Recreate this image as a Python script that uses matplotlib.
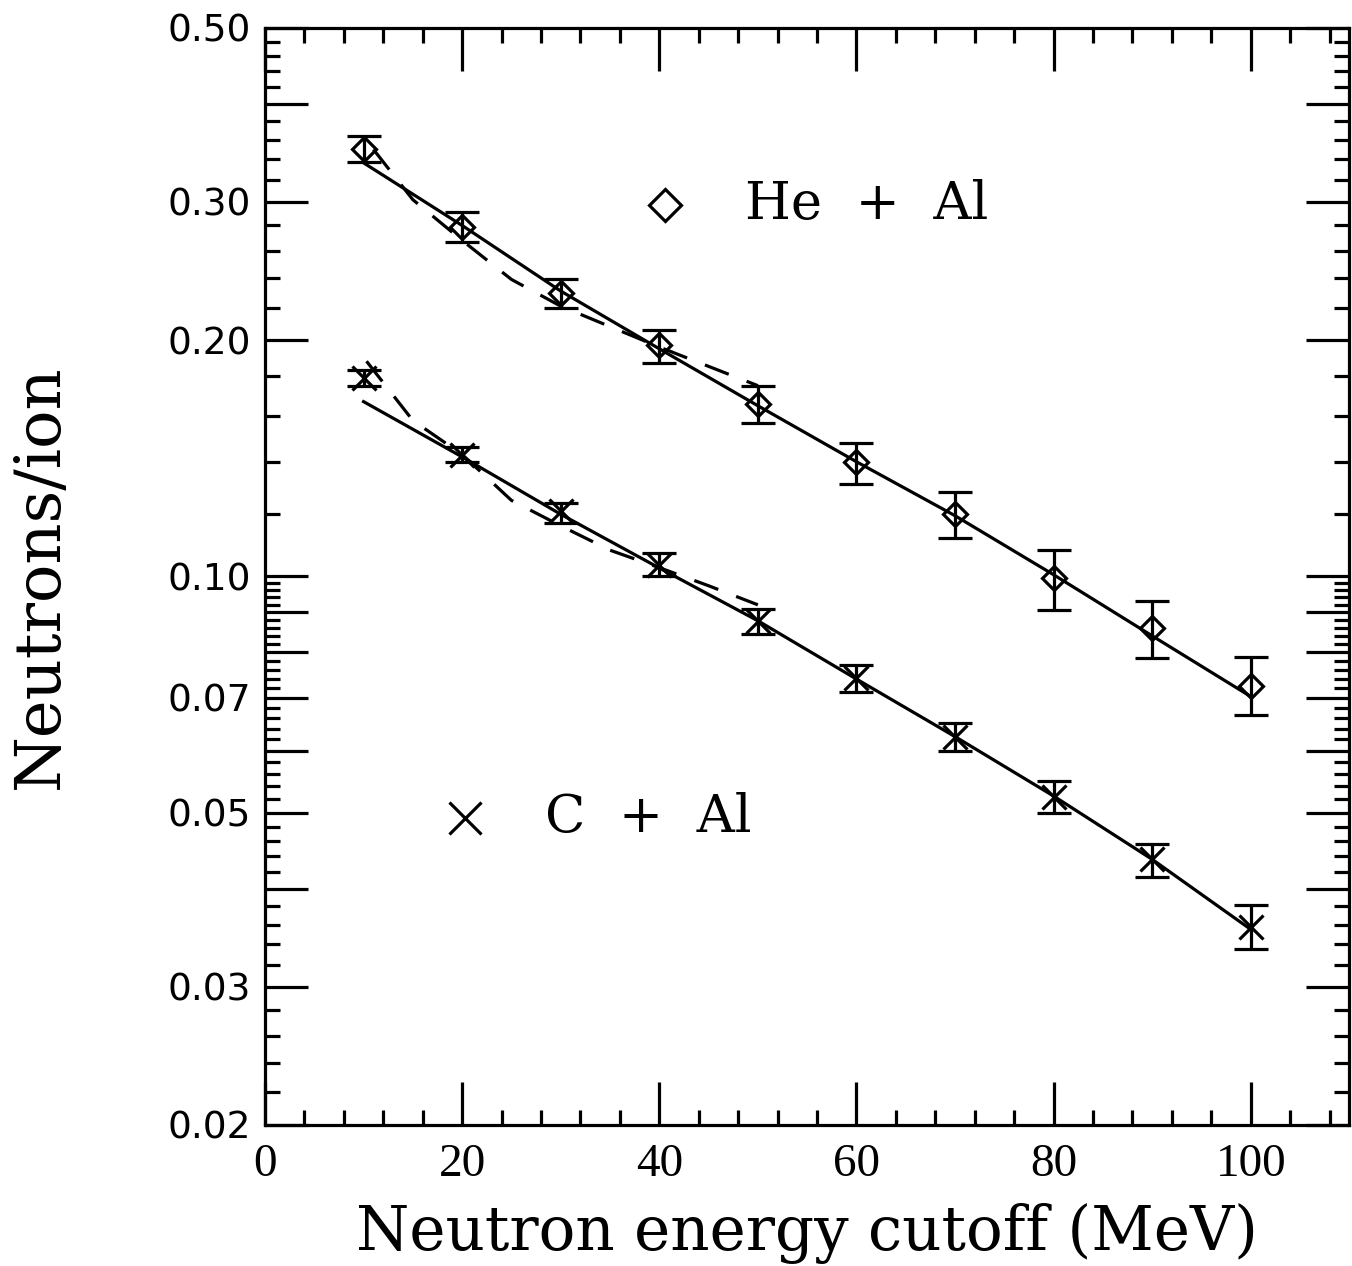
import numpy as np
import matplotlib
matplotlib.use("Agg")
import matplotlib.pyplot as plt
from matplotlib.ticker import FixedLocator, FixedFormatter, NullFormatter

# data
energy = [10, 20, 30, 40, 50, 60, 70, 80, 90, 100]

he_al = [0.350, 0.279, 0.230, 0.197, 0.166, 0.140, 0.120, 0.0994, 0.086, 0.0726]
he_al_hi = [0.364, 0.291, 0.239, 0.206, 0.175, 0.148, 0.128, 0.108, 0.093, 0.079]
he_al_lo = [0.337, 0.267, 0.220, 0.187, 0.157, 0.131, 0.112, 0.0907, 0.0786, 0.0665]

c_al = [0.179, 0.143, 0.121, 0.1035, 0.0878, 0.0743, 0.0625, 0.0524, 0.0436, 0.0358]
c_al_hi = [0.183, 0.146, 0.124, 0.107, 0.091, 0.0771, 0.065, 0.0549, 0.0456, 0.0381]
c_al_lo = [0.175, 0.140, 0.117, 0.100, 0.0845, 0.0713, 0.060, 0.0499, 0.0414, 0.0335]

# solid fit curves
he_fit = [0.3365, 0.280, 0.231, 0.195, 0.165, 0.140, 0.1195, 0.1005, 0.0840, 0.0703]
c_fit = [0.167, 0.142, 0.120, 0.1025, 0.0878, 0.0740, 0.0625, 0.0525, 0.0436, 0.0355]

# dashed curves (only up to 50 MeV)
he_dash_x = [11, 15, 20, 25, 30, 40, 50]
he_dash_y = [0.350, 0.302, 0.268, 0.239, 0.221, 0.196, 0.175]
c_dash_x = [10.3, 15, 20, 25, 30, 35, 40, 45, 50]
c_dash_y = [0.188, 0.158, 0.143, 0.125, 0.116, 0.108, 0.1026, 0.0973, 0.092]

y_major = [0.02, 0.03, 0.04, 0.05, 0.06, 0.07, 0.08, 0.09, 0.1, 0.2, 0.3, 0.4, 0.5]
y_labels = ["0.02", "0.03", "", "0.05", "", "0.07", "", "", "0.10", "0.20", "0.30", "", "0.50"]

LW = 2.3

fig = plt.figure(figsize=(13.52, 12.66), dpi=100)
ax = fig.add_axes([0.196, 0.1114, 0.802, 0.8666])

def errbar(y, lo, hi, marker, ms):
    y = np.array(y)
    err = [y - np.array(lo), np.array(hi) - y]
    ax.errorbar(energy, y, yerr=err, fmt=marker, ms=ms, mfc="none", mec="black",
                mew=LW, ecolor="black", elinewidth=LW, capsize=12, capthick=LW,
                color="black")

errbar(he_al, he_al_lo, he_al_hi, "D", 12.5)
errbar(c_al, c_al_lo, c_al_hi, "x", 17)

ax.plot(energy, he_fit, color="black", lw=LW)
ax.plot(energy, c_fit, color="black", lw=LW)
ax.plot(he_dash_x, he_dash_y, color="black", lw=LW, dashes=(8, 6))
ax.plot(c_dash_x, c_dash_y, color="black", lw=LW, dashes=(8, 6))

ax.set_yscale("log")
ax.set_xlim(0, 110)
ax.set_ylim(0.02, 0.5)

# ticks
y_minor = [round(v, 3) for v in np.arange(0.022, 0.1, 0.002)] + \
          [round(v, 2) for v in np.arange(0.12, 0.5, 0.02)]
y_minor = [v for v in y_minor if v not in y_major]
ax.yaxis.set_major_locator(FixedLocator(y_major))
ax.yaxis.set_major_formatter(FixedFormatter(y_labels))
ax.yaxis.set_minor_locator(FixedLocator(y_minor))
ax.yaxis.set_minor_formatter(NullFormatter())

ax.xaxis.set_major_locator(FixedLocator([0, 20, 40, 60, 80, 100]))
ax.xaxis.set_minor_locator(FixedLocator([v for v in range(4, 110, 4) if v % 20 != 0]))

ax.tick_params(which="both", direction="in", top=True, right=True, width=LW)
ax.tick_params(which="major", length=31)
ax.tick_params(which="minor", length=11)
ax.tick_params(axis="y", which="major", pad=10, labelsize=27)
ax.tick_params(axis="x", which="major", pad=13, labelsize=34)
for lab in ax.get_xticklabels():
    lab.set_family("Liberation Serif")
for lab in ax.get_yticklabels():
    lab.set_family("DejaVu Sans")
for sp in ax.spines.values():
    sp.set_linewidth(LW)

ax.set_xlabel("Neutron energy cutoff (MeV)", family="DejaVu Serif", fontsize=44)
ax.xaxis.set_label_coords(0.5, -0.071)
ax.set_ylabel("Neutrons/ion", family="DejaVu Serif", fontsize=46)
ax.yaxis.set_label_coords(-0.179, 0.5)

# in-plot legend
ax.plot([0.369], [0.8386], "D", ms=16.5, mfc="none", mec="black", mew=LW,
        transform=ax.transAxes, clip_on=False)
ax.text(0.443, 0.8386, "He  +  Al", transform=ax.transAxes, va="center", ha="left",
        family="DejaVu Serif", fontsize=38)
ax.plot([0.1845], [0.280], "x", ms=23, mec="black", mew=LW,
        transform=ax.transAxes, clip_on=False)
ax.text(0.258, 0.280, "C  +  Al", transform=ax.transAxes, va="center", ha="left",
        family="DejaVu Serif", fontsize=38)

fig.savefig("out.png", dpi=100)
